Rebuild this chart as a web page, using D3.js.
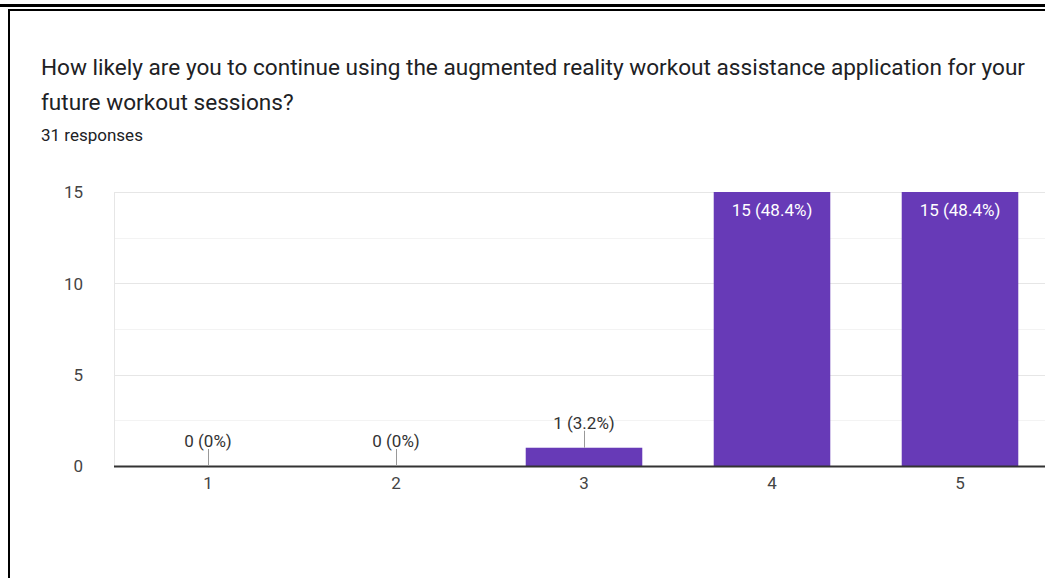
<!DOCTYPE html>
<html><head><meta charset="utf-8">
<script src="https://cdn.jsdelivr.net/npm/d3@7"></script>
<style>
html,body{margin:0;padding:0;background:#fff;}
svg{display:block;}
</style></head>
<body>
<svg id="c" width="1045" height="578"></svg>
<script>
const categories = ["1","2","3","4","5"];
const counts = [0, 0, 1, 15, 15];
const percents = ["0%", "0%", "3.2%", "48.4%", "48.4%"];
const yTicks = [0, 5, 10, 15];
const yMinorTicks = [2.5, 7.5, 12.5];
const titleLines = ["How likely are you to continue using the augmented reality workout assistance application for your", "future workout sessions?"];
const subtitle = "31 responses";

(function(){
const svg = d3.select("#c");
const W = 1045, H = 578;
const font = "Roboto, Arial, sans-serif";

svg.append("rect").attr("x",0).attr("y",4).attr("width",W).attr("height",3).attr("fill","#000");
svg.append("rect").attr("x",8).attr("y",9).attr("width",W-8).attr("height",2).attr("fill","#000");
svg.append("rect").attr("x",8).attr("y",9).attr("width",2).attr("height",H-9).attr("fill","#000");

svg.selectAll("text.title").data(titleLines).enter().append("text")
  .attr("class","title")
  .attr("x",41).attr("y",(d,i)=>75+i*35)
  .attr("font-family",font).attr("font-size",22.6).attr("fill","#202124")
  .text(d=>d);
svg.append("text").attr("x",41).attr("y",141)
  .attr("font-family",font).attr("font-size",17).attr("fill","#202124").text(subtitle);

const pLeft = 114, pTop = 192, pBottom = 466, step = 188;
const x = d3.scaleBand().domain(categories).range([pLeft, pLeft + step*categories.length]).paddingInner(0.38).paddingOuter(0.19);
const y = d3.scaleLinear().domain([0,15]).range([pBottom, pTop]);

const g = svg.append("g");
g.selectAll("line.minor").data(yMinorTicks).enter().append("line")
  .attr("x1",pLeft).attr("x2",W).attr("y1",d=>Math.round(y(d))+0.5).attr("y2",d=>Math.round(y(d))+0.5)
  .attr("stroke","#f3f3f3").attr("stroke-width",1);
g.selectAll("line.major").data(yTicks.filter(d=>d>0)).enter().append("line")
  .attr("x1",pLeft).attr("x2",W).attr("y1",d=>Math.round(y(d))+0.5).attr("y2",d=>Math.round(y(d))+0.5)
  .attr("stroke","#e6e6e6").attr("stroke-width",1);
g.append("line").attr("x1",pLeft+0.5).attr("x2",pLeft+0.5).attr("y1",pTop).attr("y2",pBottom)
  .attr("stroke","#e6e6e6");

const yAxis = d3.axisLeft(y).tickValues(yTicks).tickSize(0).tickPadding(0);
const ya = svg.append("g").attr("transform",`translate(${pLeft-31},0)`).call(yAxis);
ya.select(".domain").remove();
ya.selectAll("text").attr("font-family",font).attr("font-size",17).attr("fill","#444").attr("dy","0.35em");

svg.selectAll("rect.bar").data(categories).enter().append("rect")
  .attr("class","bar")
  .attr("x",d=>x(d)).attr("width",x.bandwidth())
  .attr("y",(d,i)=>y(counts[i])).attr("height",(d,i)=>pBottom-y(counts[i]))
  .attr("fill","#673ab7");

svg.append("line").attr("x1",pLeft).attr("x2",W).attr("y1",pBottom+0.5).attr("y2",pBottom+0.5)
  .attr("stroke","#333").attr("stroke-width",2);

const xAxis = d3.axisBottom(x).tickSize(0).tickPadding(0);
const xa = svg.append("g").attr("transform",`translate(0,${pBottom+17})`).call(xAxis);
xa.select(".domain").remove();
xa.selectAll("text").attr("font-family",font).attr("font-size",17).attr("fill","#444").attr("dy","0.35em");

categories.forEach((c,i)=>{
  const cx = x(c) + x.bandwidth()/2;
  const label = `${counts[i]} (${percents[i]})`;
  const barTop = y(counts[i]);
  if (pBottom - barTop > 30) {
    svg.append("text").attr("x",cx).attr("y",barTop+24).attr("text-anchor","middle")
      .attr("font-family",font).attr("font-size",17).attr("fill","#fff").text(label);
  } else {
    svg.append("line").attr("x1",cx+0.5).attr("x2",cx+0.5).attr("y1",barTop-17).attr("y2",barTop)
      .attr("stroke","#999").attr("stroke-width",1);
    svg.append("text").attr("x",cx).attr("y",barTop-19).attr("text-anchor","middle")
      .attr("font-family",font).attr("font-size",17).attr("fill","#333").text(label);
  }
});
})();
</script>
</body></html>
